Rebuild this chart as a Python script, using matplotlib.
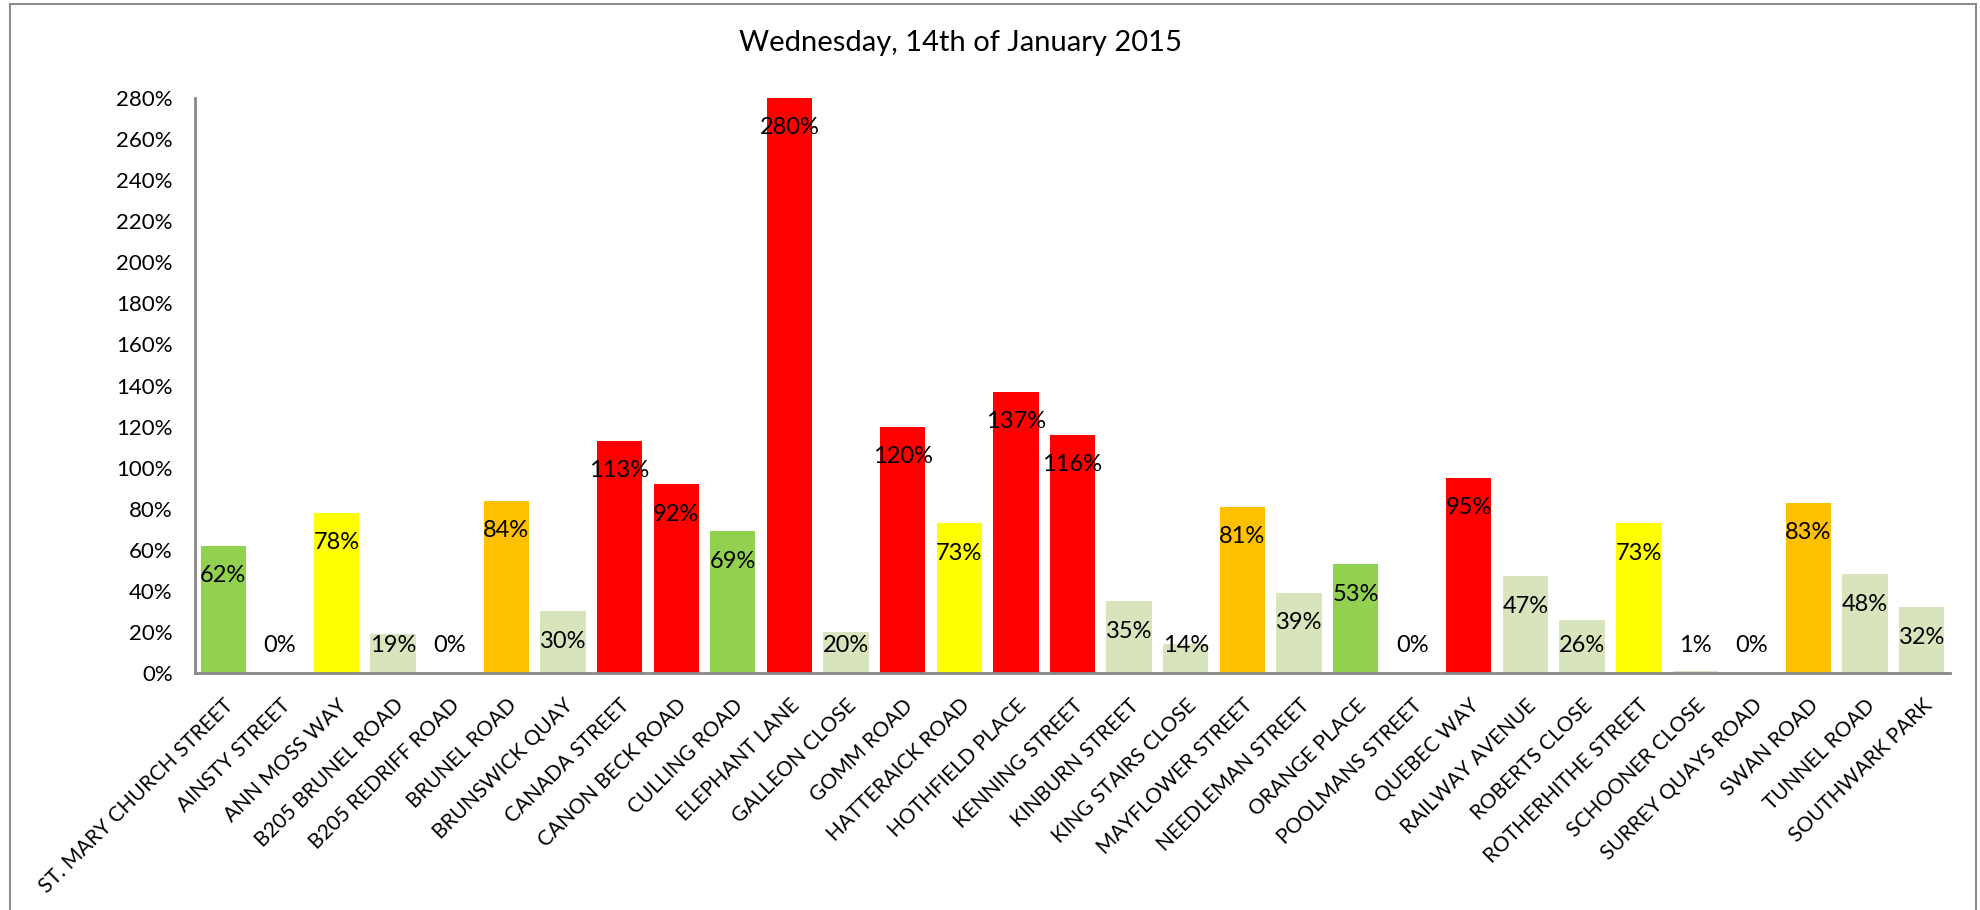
#!/usr/bin/env python3

import numpy as np
import matplotlib.pyplot as plt
from matplotlib.patches import Rectangle

# data
streets = ["ST. MARY CHURCH STREET", "AINSTY STREET", "ANN MOSS WAY", "B205 BRUNEL ROAD",
           "B205 REDRIFF ROAD", "BRUNEL ROAD", "BRUNSWICK QUAY", "CANADA STREET",
           "CANON BECK ROAD", "CULLING ROAD", "ELEPHANT LANE", "GALLEON CLOSE",
           "GOMM ROAD", "HATTERAICK ROAD", "HOTHFIELD PLACE", "KENNING STREET",
           "KINBURN STREET", "KING STAIRS CLOSE", "MAYFLOWER STREET", "NEEDLEMAN STREET",
           "ORANGE PLACE", "POOLMANS STREET", "QUEBEC WAY", "RAILWAY AVENUE",
           "ROBERTS CLOSE", "ROTHERHITHE STREET", "SCHOONER CLOSE", "SURREY QUAYS ROAD",
           "SWAN ROAD", "TUNNEL ROAD", "SOUTHWARK PARK"]
occupancy = [62, 0, 78, 19, 0, 84, 30, 113, 92, 69, 280, 20, 120, 73, 137, 116,
             35, 14, 81, 39, 53, 0, 95, 47, 26, 73, 1, 0, 83, 48, 32]
band = ["green", "light", "yellow", "light", "light", "orange", "light", "red",
        "red", "green", "red", "light", "red", "yellow", "red", "red",
        "light", "light", "orange", "light", "green", "light", "red", "light",
        "light", "yellow", "light", "light", "orange", "light", "light"]
title = "Wednesday, 14th of January 2015"

colours = {"green": "#92D050", "light": "#D8E4BC", "yellow": "#FFFF00",
           "orange": "#FFC000", "red": "#FF0000"}

plt.rcParams['font.family'] = ['Lato', 'DejaVu Sans']

fig = plt.figure(figsize=(19.81, 9.10), dpi=100)
ax = fig.add_axes([195/1981, 1-673/910, (1950-195)/1981, (673-98)/910])

x = np.arange(len(streets))
ax.bar(x, occupancy, 0.8, color=[colours[b] for b in band], zorder=2)

# labels sit just inside the bar end, but never below a floor near the axis
for xi, v in zip(x, occupancy):
   ax.text(xi, max(v - 14.6, 13.6), "%d%%" % v, ha='center', va='center',
           fontsize=17, color='black', zorder=3)

ax.set_xlim(-0.5, len(streets) - 0.5)
ax.set_ylim(0, 280)
ax.set_yticks(np.arange(0, 281, 20))
ax.set_yticklabels(["%d%%" % t for t in range(0, 281, 20)])
ax.set_xticks(x)
ax.set_xticklabels(streets, rotation=45, ha='right', va='top', rotation_mode='anchor')
ax.tick_params(axis='y', length=0, pad=16, labelsize=16)
ax.tick_params(axis='x', length=0, pad=16, labelsize=15)

for s in ['top', 'right']:
   ax.spines[s].set_visible(False)
for s in ['left', 'bottom']:
   ax.spines[s].set_color('#888888')
   ax.spines[s].set_linewidth(2)

fig.text(961/1981, 1-43/910, title, ha='center', va='center', fontsize=21)

# outer chart border
fig.patches.append(Rectangle((10/1981, -0.01), (1976-10)/1981, 1.01 - 4/910,
                             transform=fig.transFigure, fill=False,
                             edgecolor='#8c8c8c', linewidth=1.5))

fig.savefig("out.png", dpi=100, facecolor='w')
